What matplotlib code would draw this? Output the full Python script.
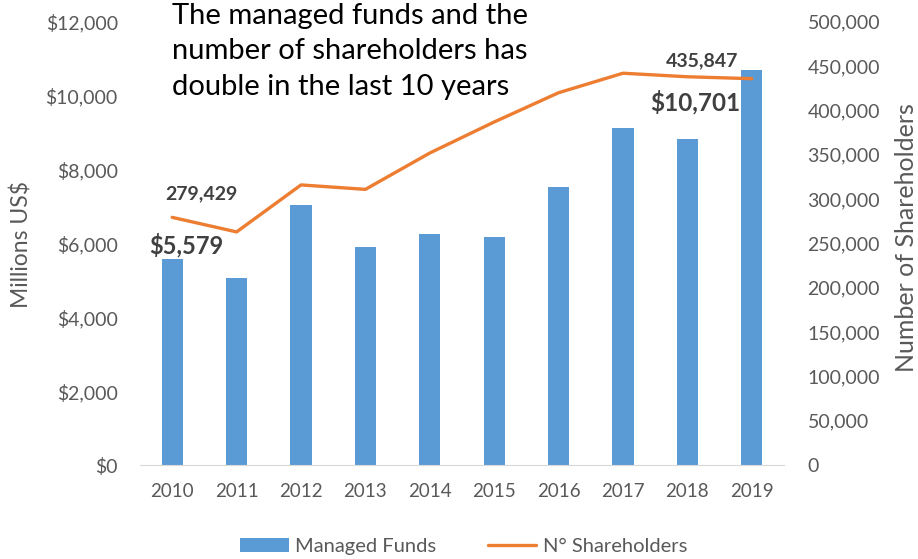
import numpy as np
import matplotlib.pyplot as plt
from matplotlib.ticker import FuncFormatter

years = ['2010', '2011', '2012', '2013', '2014', '2015', '2016', '2017', '2018', '2019']
managed_funds = [5579, 5070, 7040, 5900, 6260, 6180, 7530, 9130, 8840, 10701]  # millions US$
shareholders = [279429, 263000, 316000, 311000, 352000, 387000, 420000, 442000, 438000, 435847]

bar_color = '#5B9BD5'
line_color = '#ED7D31'
tick_color = '#595959'

plt.rcParams['font.family'] = ['Lato', 'DejaVu Sans']

fig = plt.figure(figsize=(9.18, 5.59), dpi=100)
ax = fig.add_axes([0.1525, 0.168, 0.7015, 0.793])
ax2 = ax.twinx()

x = np.arange(len(years))
bars = ax.bar(x, managed_funds, width=0.33, color=bar_color, label='Managed Funds', zorder=2)
line, = ax2.plot(x, shareholders, color=line_color, lw=2.4, label='N° Shareholders',
                 solid_capstyle='round', zorder=3)

ax.set_xlim(-0.5, len(years) - 0.5)
ax.set_ylim(0, 12000)
ax.set_yticks(np.arange(0, 12001, 2000))
ax.yaxis.set_major_formatter(FuncFormatter(lambda v, p: '${:,.0f}'.format(v)))
ax2.set_ylim(0, 500000)
ax2.set_yticks(np.arange(0, 500001, 50000))
ax2.yaxis.set_major_formatter(FuncFormatter(lambda v, p: '{:,.0f}'.format(v)))
ax.set_xticks(x)
ax.set_xticklabels(years)

for a in (ax, ax2):
    for s in a.spines.values():
        s.set_visible(False)
    a.tick_params(length=0, labelsize=14, colors=tick_color)
ax.spines['bottom'].set_visible(True)
ax.spines['bottom'].set_color('#d9d9d9')
ax.tick_params(axis='x', pad=13, labelsize=13.5)
ax.tick_params(axis='y', pad=16)
ax2.tick_params(axis='y', pad=17)

# axis titles
fig.text(22 / 918, 1 - 244 / 559, 'Millions US$', rotation=90, ha='center', va='center',
         fontsize=16.5, color=tick_color)
fig.text(906 / 918, 1 - 238 / 559, 'Number of Shareholders', rotation=90, ha='center',
         va='center', fontsize=18, color=tick_color)

# data labels for first and last points
lab_color = '#404040'
ax2.annotate('{:,}'.format(shareholders[0]), (x[0], shareholders[0]), xytext=(21, 11),
             textcoords='offset points', ha='center', va='bottom', fontsize=14,
             fontweight='bold', color=lab_color)
ax2.annotate('{:,}'.format(shareholders[-1]), (x[-1], shareholders[-1]), xytext=(-36, 7),
             textcoords='offset points', ha='center', va='bottom', fontsize=14,
             fontweight='bold', color=lab_color)
ax.annotate('${:,}'.format(managed_funds[0]), (x[0], managed_funds[0]), xytext=(10, 1),
            textcoords='offset points', ha='center', va='bottom', fontsize=17,
            fontweight='bold', color=lab_color)
ax.annotate('${:,}'.format(managed_funds[-1]), (x[-1], managed_funds[-1]), xytext=(-41, -32),
            textcoords='offset points', ha='center', va='bottom', fontsize=17.5,
            fontweight='bold', color=lab_color)

fig.text(0.187, 0.995, 'The managed funds and the\nnumber of shareholders has\ndouble in the last 10 years',
         ha='left', va='top', fontsize=21, color='black', linespacing=1.45)

fig.legend(handles=[bars, line], loc='lower center', bbox_to_anchor=(0.505, -0.025), ncol=2,
           frameon=False, fontsize=14.5, labelcolor=tick_color, handlelength=2.4,
           columnspacing=2.6, handletextpad=0.3)

plt.savefig('out.png', dpi=100)
